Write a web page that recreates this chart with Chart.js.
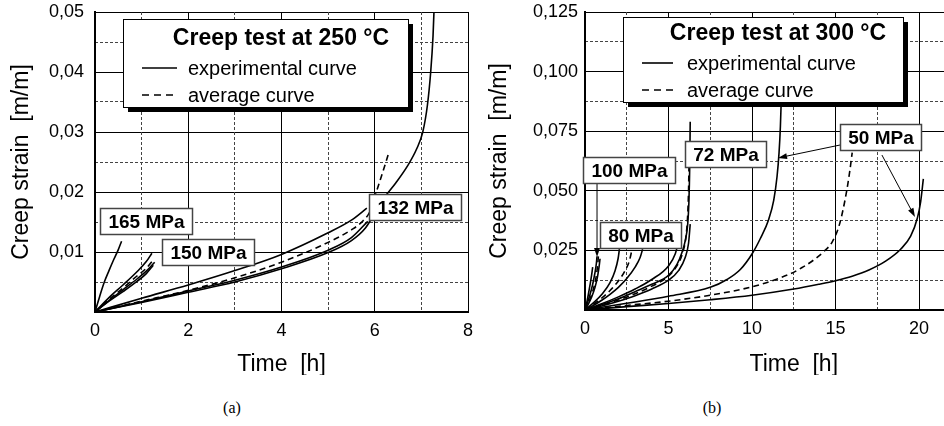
<!DOCTYPE html>
<html>
<head>
<meta charset="utf-8">
<script src="https://cdn.jsdelivr.net/npm/chart.js@4/dist/chart.umd.min.js"></script>
<style>
  html, body { margin: 0; padding: 0; background: #fff; overflow: hidden; width: 944px; height: 426px; }
  #wrapA { position: absolute; left: 0; top: 0; width: 480px; height: 375px; }
  #wrapB { position: absolute; left: 478px; top: 0; width: 540px; height: 375px; }
  .cap { position: absolute; top: 399px; width: 40px; text-align: center;
         font: 16px "Liberation Serif", "Times New Roman", serif; color: #000; }
</style>
</head>
<body>
<div id="wrapA"><canvas id="c250" width="480" height="375"></canvas></div>
<div id="wrapB"><canvas id="c300" width="540" height="375"></canvas></div>
<div class="cap" style="left:212px">(a)</div>
<div class="cap" style="left:692px">(b)</div>
<script>
// ---------- Creep test at 250 °C : time [h] / creep strain [m/m] ----------
const t250_165 = [0, 0.1, 0.2, 0.3, 0.4, 0.5, 0.57];
const e250_165 = [0, 0.0026, 0.005, 0.0069, 0.0087, 0.0104, 0.0118];

const t250_150a = [0, 0.3, 0.6, 0.9, 1.1, 1.22];
const e250_150a = [0, 0.0024, 0.0045, 0.0067, 0.0084, 0.0098];
const t250_150b = [0, 0.3, 0.6, 0.9, 1.1, 1.28];
const e250_150b = [0, 0.0019, 0.0037, 0.0055, 0.0068, 0.0083];
const t250_150c = [0, 0.3, 0.6, 0.9, 1.1, 1.25];
const e250_150c = [0, 0.0018, 0.0034, 0.0051, 0.0064, 0.0078];
const t250_150avg = [0, 0.3, 0.6, 0.9, 1.1, 1.25];
const e250_150avg = [0, 0.0021, 0.004, 0.006, 0.0073, 0.0087];

const t250_132a = [0, 1, 2, 3, 4, 5, 5.5, 5.83];
const e250_132a = [0, 0.0023, 0.0045, 0.0069, 0.0096, 0.0132, 0.0153, 0.0173];
const t250_132b = [0, 1, 2, 3, 4, 5, 5.5, 5.85];
const e250_132b = [0, 0.0017, 0.0035, 0.0053, 0.0075, 0.0103, 0.0124, 0.0151];
const t250_132c = [0, 1, 2, 3, 4, 5, 5.5, 5.8, 6.0, 6.2, 6.45, 6.7, 6.9, 7.03, 7.13, 7.2, 7.25, 7.28, 7.3];
const e250_132c = [0, 0.0016, 0.0033, 0.005, 0.0072, 0.0099, 0.0119, 0.014, 0.0165, 0.019, 0.0215, 0.0243, 0.0272, 0.03, 0.0345, 0.04, 0.046, 0.052, 0.057];
const t250_132avg = [0, 1, 2, 3, 4, 5, 5.5, 5.75, 5.9, 6.0, 6.15, 6.3];
const e250_132avg = [0, 0.0018, 0.0036, 0.0057, 0.0083, 0.0116, 0.0137, 0.0152, 0.0168, 0.0192, 0.0228, 0.0265];

// ---------- Creep test at 300 °C ----------
const t300_100a = [0, 0.15, 0.3, 0.45, 0.58, 0.68, 0.72];
const e300_100a = [0, 0.003, 0.0065, 0.0105, 0.015, 0.0195, 0.0225];
const t300_100b = [0, 0.2, 0.4, 0.6, 0.75, 0.85, 0.9];
const e300_100b = [0, 0.0025, 0.0055, 0.0095, 0.014, 0.0185, 0.0215];
const t300_100c = [0, 0.1, 0.2, 0.3, 0.4, 0.46];
const e300_100c = [0, 0.003, 0.0065, 0.0105, 0.0148, 0.018];
const t300_100avg = [0, 0.2, 0.4, 0.55, 0.68, 0.76, 0.8];
const e300_100avg = [0, 0.003, 0.0065, 0.01, 0.0145, 0.019, 0.0225];

const t300_80a = [0, 0.5, 1, 1.5, 1.8, 1.98, 2.06];
const e300_80a = [0, 0.003, 0.0065, 0.0115, 0.0165, 0.0215, 0.0255];
const t300_80b = [0, 0.5, 1, 1.5, 2, 2.5, 3, 3.3, 3.45];
const e300_80b = [0, 0.0019, 0.0041, 0.0066, 0.0095, 0.0132, 0.018, 0.022, 0.0255];
const t300_80avg = [0, 0.5, 1, 1.5, 2, 2.4, 2.65, 2.8];
const e300_80avg = [0, 0.0024, 0.005, 0.0082, 0.0122, 0.0165, 0.0205, 0.0248];

const t300_72a = [0, 1, 2, 3, 4, 5, 5.5, 5.8, 6.0, 6.15, 6.22, 6.27, 6.3];
const e300_72a = [0, 0.0022, 0.0047, 0.0077, 0.0108, 0.0145, 0.019, 0.024, 0.029, 0.036, 0.045, 0.06, 0.079];
const t300_72b = [0, 1, 2, 3, 4, 5, 5.4, 5.6, 5.72];
const e300_72b = [0, 0.0026, 0.0055, 0.0088, 0.0128, 0.0185, 0.0235, 0.029, 0.0365];
const t300_72c = [0, 1, 2, 3, 4, 5, 5.6, 6.0, 6.2, 6.3];
const e300_72c = [0, 0.0017, 0.0037, 0.006, 0.0088, 0.0125, 0.0165, 0.022, 0.028, 0.036];
const t300_72avg = [0, 1, 2, 3, 4, 5, 5.5, 5.85, 6.05, 6.15, 6.2, 6.23];
const e300_72avg = [0, 0.002, 0.0042, 0.0068, 0.01, 0.0142, 0.0185, 0.024, 0.031, 0.04, 0.05, 0.062];

const t300_50a = [0, 2.5, 5, 7.5, 8.5, 9.3, 10, 10.5, 11, 11.3, 11.5, 11.62, 11.7, 11.76];
const e300_50a = [0, 0.0028, 0.0058, 0.0095, 0.0128, 0.017, 0.0235, 0.03, 0.038, 0.046, 0.056, 0.066, 0.077, 0.09];
const t300_50b = [0, 2.5, 5, 7.5, 10, 12.5, 14, 15, 16, 17, 18, 18.9, 19.5, 19.9, 20.1, 20.26];
const e300_50b = [0, 0.0014, 0.0027, 0.0043, 0.0062, 0.0088, 0.0108, 0.0123, 0.0142, 0.0168, 0.0205, 0.0255, 0.031, 0.0385, 0.0455, 0.055];
const t300_50avg = [0, 2.5, 5, 7.5, 10, 11, 12.3, 13, 13.7, 14.3, 14.8, 15.2, 15.45, 15.67, 15.85, 16.0];
const e300_50avg = [0, 0.0019, 0.0037, 0.0062, 0.0097, 0.0118, 0.0152, 0.0178, 0.021, 0.0245, 0.0285, 0.035, 0.042, 0.05, 0.058, 0.066];

const FONT = '"Liberation Sans", Arial, Helvetica, sans-serif';
Chart.defaults.font.family = FONT;
Chart.defaults.color = '#000';

function pts(ts, es) { return ts.map((t, i) => ({ x: t, y: es[i] })); }

function curve(ts, es, average) {
  return {
    data: pts(ts, es),
    showLine: true,
    borderColor: '#000',
    borderWidth: 1.6,
    borderDash: average ? [6, 4] : [],
    pointRadius: 0,
    fill: false,
    cubicInterpolationMode: 'monotone'
  };
}

// stress tags, arrows and the framed key, drawn on top of the curves
function makeNotes(cfg) {
  return {
    id: 'notes',
    afterDatasetsDraw(chart) {
      const { ctx, chartArea: a } = chart;
      const sx = chart.scales.x, sy = chart.scales.y;
      ctx.save();
      // arrows
      ctx.strokeStyle = '#000';
      ctx.fillStyle = '#000';
      ctx.lineWidth = 1;
      (cfg.arrows || []).forEach(ar => {
        const x1 = sx.getPixelForValue(ar.from[0]), y1 = sy.getPixelForValue(ar.from[1]);
        const x2 = sx.getPixelForValue(ar.to[0]), y2 = sy.getPixelForValue(ar.to[1]);
        const ang = Math.atan2(y2 - y1, x2 - x1);
        const L = 9, W = 3;
        ctx.beginPath();
        ctx.moveTo(x1, y1);
        ctx.lineTo(x2 - L * Math.cos(ang), y2 - L * Math.sin(ang));
        ctx.stroke();
        ctx.beginPath();
        ctx.moveTo(x2, y2);
        ctx.lineTo(x2 - L * Math.cos(ang) + W * Math.sin(ang), y2 - L * Math.sin(ang) - W * Math.cos(ang));
        ctx.lineTo(x2 - L * Math.cos(ang) - W * Math.sin(ang), y2 - L * Math.sin(ang) + W * Math.cos(ang));
        ctx.closePath();
        ctx.fill();
      });
      // stress tags
      ctx.font = 'bold 19px ' + FONT;
      ctx.textAlign = 'center';
      ctx.textBaseline = 'middle';
      cfg.tags.forEach(tg => {
        const cx = sx.getPixelForValue(tg.at[0]), cy = sy.getPixelForValue(tg.at[1]);
        const w = Math.round(ctx.measureText(tg.text).width + 16), h = 26;
        const bx = Math.round(cx - w / 2) + 0.5, by = Math.round(cy - h / 2) + 0.5;
        ctx.fillStyle = '#fff';
        ctx.fillRect(bx, by, w, h);
        ctx.strokeStyle = '#444';
        ctx.lineWidth = 1.5;
        ctx.strokeRect(bx, by, w, h);
        ctx.fillStyle = '#000';
        ctx.fillText(tg.text, bx + w / 2, by + h / 2 + 1);
      });
      // key box with drop shadow
      const k = cfg.key;
      const kx = a.left + k.dx, ky = a.top + k.dy;
      ctx.fillStyle = '#000';
      ctx.fillRect(kx + 5, ky + 5, k.w, k.h);
      ctx.fillStyle = '#fff';
      ctx.fillRect(kx, ky, k.w, k.h);
      ctx.strokeStyle = '#000';
      ctx.lineWidth = 1;
      ctx.strokeRect(kx + 0.5, ky + 0.5, k.w, k.h);
      ctx.fillStyle = '#000';
      ctx.font = 'bold 23px ' + FONT;
      ctx.textAlign = 'center';
      ctx.fillText(k.title, kx + k.titleX, ky + k.titleY);
      ctx.font = '20px ' + FONT;
      ctx.textAlign = 'left';
      k.rows.forEach((txt, i) => {
        const ry = ky + k.rowY[i];
        ctx.beginPath();
        ctx.setLineDash(i === 1 ? [7, 5] : []);
        ctx.lineWidth = 1.6;
        ctx.moveTo(kx + k.sample[0], ry);
        ctx.lineTo(kx + k.sample[1], ry);
        ctx.stroke();
        ctx.setLineDash([]);
        ctx.fillText(txt, kx + k.textX, ry + 1);
      });
      ctx.restore();
    }
  };
}

function scales(o) {
  const minorX = o.xStep / 2, minorY = o.yStep / 2;
  const odd = (v, s) => Math.round(v / s) % 2 === 1;
  // the outer layout padding alone decides where the plot frame sits
  const noOverhang = s => { s.paddingTop = 0; s.paddingBottom = 0; s.paddingLeft = 0; s.paddingRight = 0; };
  return {
    x: {
      type: 'linear', position: 'bottom', min: 0, max: o.xMax,
      ticks: { stepSize: o.xStep, padding: 8, autoSkip: false, maxRotation: 0, font: { size: 18 },
               callback: v => String(v) },
      grid: { color: '#000', lineWidth: 1, drawTicks: false },
      border: { color: '#000', width: 2 },
      title: { display: true, text: 'Time  [h]', font: { size: 23 }, padding: { top: 0, bottom: -3 } },
      afterFit: s => { s.height = o.xAxisH; noOverhang(s); }
    },
    y: {
      type: 'linear', position: 'left', min: 0, max: o.yMax,
      ticks: { stepSize: o.yStep, padding: o.yPad, autoSkip: false, font: { size: 18 },
               callback: v => (Math.abs(v) < 1e-9 ? '' : v.toFixed(o.dec).replace('.', ',')) },
      grid: { color: '#000', lineWidth: 1, drawTicks: false },
      border: { color: '#000', width: 2 },
      title: { display: true, text: 'Creep strain  [m/m]', font: { size: 23 }, padding: { top: 8, bottom: 0 } },
      afterFit: s => { s.width = o.yAxisW; noOverhang(s); }
    },
    xMinor: {
      type: 'linear', position: 'bottom', min: 0, max: o.xMax,
      ticks: { display: false, stepSize: minorX, autoSkip: false },
      grid: { drawTicks: false, lineWidth: 1,
              color: c => (c.tick && odd(c.tick.value, minorX) ? '#444' : 'rgba(0,0,0,0)') },
      border: { display: false, dash: [3, 2] },
      afterFit: s => { s.height = 0; noOverhang(s); }
    },
    yMinor: {
      type: 'linear', position: 'left', min: 0, max: o.yMax,
      ticks: { display: false, stepSize: minorY, autoSkip: false },
      grid: { drawTicks: false, lineWidth: 1,
              color: c => (c.tick && odd(c.tick.value, minorY) ? '#444' : 'rgba(0,0,0,0)') },
      border: { display: false, dash: [3, 2] },
      afterFit: s => { s.width = 0; noOverhang(s); }
    }
  };
}

function build(canvasId, datasets, o, notes) {
  return new Chart(document.getElementById(canvasId), {
    type: 'scatter',
    data: { datasets },
    options: {
      responsive: false, animation: false, devicePixelRatio: 1,
      layout: { padding: { top: o.padTop, right: o.padRight, left: 0, bottom: 0 } },
      plugins: { legend: { display: false }, tooltip: { enabled: false } },
      scales: scales(o)
    },
    plugins: [makeNotes(notes)]
  });
}

build('c250', [
  curve(t250_165, e250_165),
  curve(t250_150a, e250_150a),
  curve(t250_150b, e250_150b),
  curve(t250_150c, e250_150c),
  curve(t250_150avg, e250_150avg, true),
  curve(t250_132a, e250_132a),
  curve(t250_132b, e250_132b),
  curve(t250_132c, e250_132c),
  curve(t250_132avg, e250_132avg, true)
], { xMax: 8, xStep: 2, yMax: 0.05, yStep: 0.01, dec: 2, yPad: 11, yAxisW: 95, xAxisH: 63, padRight: 12, padTop: 12 }, {
  tags: [
    { text: '165 MPa', at: [1.094, 0.01525] },
    { text: '150 MPa', at: [2.413, 0.01008] },
    { text: '132 MPa', at: [6.862, 0.0175] }
  ],
  arrows: [],
  key: { dx: 28, dy: 7, w: 285, h: 88, title: 'Creep test at 250 °C', titleX: 158, titleY: 20,
         rows: ['experimental curve', 'average curve'], rowY: [49, 76], sample: [19, 54], textX: 65 }
});

build('c300', [
  curve(t300_100a, e300_100a),
  curve(t300_100b, e300_100b),
  curve(t300_100c, e300_100c),
  curve(t300_100avg, e300_100avg, true),
  curve(t300_80a, e300_80a),
  curve(t300_80b, e300_80b),
  curve(t300_80avg, e300_80avg, true),
  curve(t300_72a, e300_72a),
  curve(t300_72b, e300_72b),
  curve(t300_72c, e300_72c),
  curve(t300_72avg, e300_72avg, true),
  curve(t300_50a, e300_50a),
  curve(t300_50b, e300_50b),
  curve(t300_50avg, e300_50avg, true)
], { xMax: 25, xStep: 5, yMax: 0.125, yStep: 0.025, dec: 3, yPad: 7, yAxisW: 107, xAxisH: 65, padRight: 15.5, padTop: 12 }, {
  tags: [
    { text: '100 MPa', at: [2.63, 0.0587] },
    { text: '80 MPa', at: [3.35, 0.0315] },
    { text: '72 MPa', at: [8.44, 0.0654] },
    { text: '50 MPa', at: [17.69, 0.0724] }
  ],
  arrows: [
    { from: [0.72, 0.0533], to: [0.72, 0.0222] },
    { from: [15.27, 0.0692], to: [11.56, 0.0638] },
    { from: [17.78, 0.065], to: [19.76, 0.039] }
  ],
  key: { dx: 38, dy: 5, w: 280, h: 85, title: 'Creep test at 300 °C', titleX: 155, titleY: 17,
         rows: ['experimental curve', 'average curve'], rowY: [46, 73], sample: [19, 50], textX: 64 }
});
</script>
</body>
</html>
